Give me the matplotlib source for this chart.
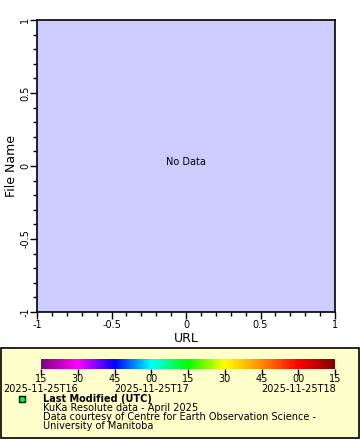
import matplotlib
matplotlib.use("Agg")
import matplotlib.pyplot as plt
from matplotlib.colors import LinearSegmentedColormap
from matplotlib.patches import Rectangle
from matplotlib.ticker import MultipleLocator
import numpy as np

W, H = 360, 440

x_range = [-1, 1]
y_range = [-1, 1]
x_ticks = [-1, -0.5, 0, 0.5, 1]
x_tick_labels = ["-1", "-0.5", "0", "0.5", "1"]
y_tick_labels = ["-1", "-0.5", "0", "0.5", "1"]
x_label = "URL"
y_label = "File Name"

cbar_tick_labels = ["15", "30", "45", "00", "15", "30", "45", "00", "15"]
cbar_time_labels = ["2025-11-25T16", "2025-11-25T17", "2025-11-25T18"]
cbar_time_idx = [0, 3, 7]
cbar_colors = ["#800080", "#ff00ff", "#0000ff", "#00ffff", "#00ff00",
               "#ffff00", "#ff8c00", "#ff0000", "#800000"]

legend_lines = ["KuKa Resolute data - April 2025",
                "Data courtesy of Centre for Earth Observation Science -",
                "University of Manitoba"]

plt.rcParams["font.family"] = "DejaVu Sans"


def fx(px):
    return px / W


def fy(py):
    return 1 - py / H


fig = plt.figure(figsize=(W / 100, H / 100), dpi=100)
fig.patch.set_facecolor("white")

# main axes
ax = fig.add_axes([fx(37), fy(312), fx(335) - fx(37), fy(20) - fy(312)])
ax.set_facecolor("#ccccff")
ax.set_xlim(x_range)
ax.set_ylim(y_range)
ax.set_xticks(x_ticks)
ax.set_xticklabels(x_tick_labels, fontsize=7)
ax.set_yticks(x_ticks)
ax.set_yticklabels(y_tick_labels, fontsize=7, rotation=90, va="center")
ax.xaxis.set_minor_locator(MultipleLocator(0.1))
ax.yaxis.set_minor_locator(MultipleLocator(0.1))
ax.tick_params(which="major", length=5, width=1, direction="out", pad=1)
ax.tick_params(axis="y", which="major", pad=0)
ax.tick_params(which="minor", length=3, width=1, direction="out")
for s in ax.spines.values():
    s.set_linewidth(1.2)
ax.set_xlabel(x_label, fontsize=9)
ax.set_ylabel(y_label, fontsize=9)
ax.xaxis.set_label_coords(0.5, (312 - 338) / 292, transform=ax.transAxes)
ax.yaxis.set_label_coords((12 - 37) / 298, 0.5, transform=ax.transAxes)
ax.xaxis.label.set_va("center")
ax.yaxis.label.set_va("center")
ax.text(0, 0.03, "No Data", fontsize=7, ha="center", va="center")

# legend box
fig.patches.append(Rectangle((fx(1), fy(438)), fx(358), fy(348) - fy(438),
                             transform=fig.transFigure, facecolor="#ffffcc",
                             edgecolor="black", linewidth=1.2, zorder=-1))

# colorbar
n = len(cbar_tick_labels)
cmap = LinearSegmentedColormap.from_list("rb", cbar_colors)
cax = fig.add_axes([fx(41), fy(369), fx(335) - fx(41), fy(359) - fy(369)])
grad = np.linspace(0, 1, 256).reshape(1, -1)
cax.imshow(grad, aspect="auto", cmap=cmap, extent=[0, n - 1, 0, 1])
cax.set_xlim(0, n - 1)
cax.set_yticks([])
cax.set_xticks(range(n))
cax.set_xticklabels([])
cax.tick_params(axis="x", length=4, width=1)
for s in cax.spines.values():
    s.set_visible(False)

for i, lab in enumerate(cbar_tick_labels):
    xp = 41 + i * (335 - 41) / (n - 1)
    fig.text(fx(xp), fy(378.5), lab, fontsize=7, ha="center", va="center")

for i, lab in zip(cbar_time_idx, cbar_time_labels):
    xp = 41 + i * (335 - 41) / (n - 1)
    fig.text(fx(xp), fy(389), lab, fontsize=7, ha="center", va="center")

# legend entry
fig.patches.append(Rectangle((fx(19), fy(402)), fx(6), fy(396) - fy(402),
                             transform=fig.transFigure, facecolor="#00ff00",
                             edgecolor="black", linewidth=1))
fig.text(fx(43), fy(399), "Last Modified (UTC)", fontsize=7,
         fontweight="bold", va="center")
for k, line in enumerate(legend_lines):
    fig.text(fx(43), fy(408 + 9 * k), line, fontsize=7, va="center")

fig.savefig("out.png", dpi=100)
